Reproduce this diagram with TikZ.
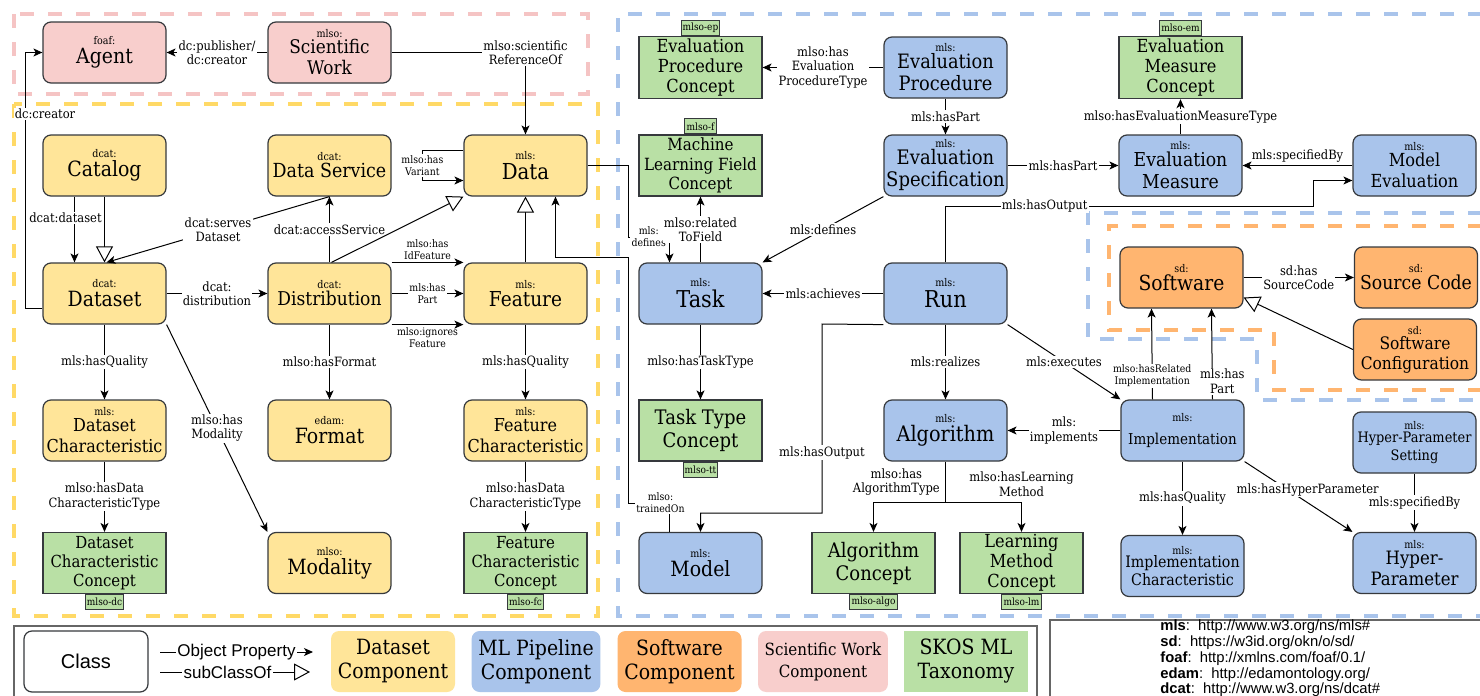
\documentclass[tikz,border=0pt]{standalone}
\usepackage{fontspec}
\setmainfont{DejaVu Serif}[FakeStretch=0.9]
\newfontfamily\legsans{Liberation Sans}
\usetikzlibrary{arrows.meta}
\definecolor{dsyellow}{HTML}{FFE599}
\definecolor{mlblue}{HTML}{A9C4EB}
\definecolor{sworange}{HTML}{FFB570}
\definecolor{scipink}{HTML}{F8CECC}
\definecolor{skosgreen}{HTML}{B9E0A5}
\definecolor{zoneyellow}{HTML}{FFD966}
\definecolor{zonepink}{HTML}{F5C4C4}
\definecolor{nodeborder}{HTML}{36393D}
\definecolor{framegray}{HTML}{666666}
\newcommand{\fsz}[2]{\fontsize{#1}{#2}\selectfont}
\newcommand{\nsp}[1]{{\fsz{5.3}{6}#1}\\[-2.5pt]}
\tikzset{
  classbox/.style={rectangle,rounded corners=4pt,draw=nodeborder,line width=0.6pt,minimum width=61.5pt,minimum height=30.5pt,inner sep=1pt,align=center,font=\fsz{10.5}{12}},
  dsclass/.style={classbox,fill=dsyellow},
  mlclass/.style={classbox,fill=mlblue},
  swclass/.style={classbox,fill=sworange},
  sciclass/.style={classbox,fill=scipink},
  skosconcept/.style={classbox,rounded corners=0pt,fill=skosgreen},
  skostag/.style={rectangle,draw=nodeborder,fill=skosgreen,line width=0.5pt,inner xsep=0.8pt,inner ysep=0pt,minimum height=7.5pt,font=\fsz{5}{6}},
  objprop/.style={draw=black,line width=0.5pt,-{Stealth[length=4.5pt,width=4pt,inset=1.2pt]}},
  subclass/.style={draw=black,line width=0.5pt,-{Triangle[open,length=8pt,width=8.5pt,fill=white]}},
  proplabel/.style={fill=white,inner sep=0.6pt,align=center,font=\fsz{6.4}{7.2}},
  smalllabel/.style={proplabel,font=\fsz{5.2}{6}},
  zone/.style={line width=2pt,dash pattern=on 7pt off 7pt},
  legendbox/.style={rectangle,rounded corners=4pt,minimum width=62pt,minimum height=30.5pt,align=center,font=\fsz{10.5}{12}},
  legendlabel/.style={fill=white,inner sep=0.6pt,font=\legsans\fsz{8.5}{9.5}},
  legendframe/.style={draw=framegray,line width=0.6pt}
}
\begin{document}
\begin{tikzpicture}[x=0.5pt,y=-0.5pt]
  \useasboundingbox[fill=white] (0,0) rectangle (1480,696);
  % component zones
  \draw[zone,zonepink] (14,14) rectangle (588,94);
  \draw[zone,zoneyellow] (14,104) rectangle (598,616);
  \draw[zone,mlblue] (1482,14) -- (618,14) -- (618,616) -- (1482,616);
  \draw[zone,mlblue] (1482,213) -- (1088,213) -- (1088,339) -- (1257,339) -- (1257,400) -- (1482,400);
  \draw[zone,sworange] (1482,226) -- (1109,226) -- (1109,330) -- (1274,330) -- (1274,390) -- (1482,390);

  % scientific work
  \node[sciclass] (agent) at (104.5,52.5) {\nsp{foaf:}Agent};
  \node[sciclass,font=\fsz{9.4}{10.5}] (scwork) at (329.5,52.5) {\nsp{mlso:}Scientific\\Work};

  % dataset
  \node[dsclass] (catalog) at (104.5,165.5) {\nsp{dcat:}Catalog};
  \node[dsclass,font=\fsz{9.7}{11}] (dataservice) at (329.5,165.5) {\nsp{dcat:}Data Service};
  \node[dsclass,font=\fsz{11}{12.5}] (data) at (525.5,165.5) {\nsp{mls:}Data};
  \node[dsclass] (dataset) at (104.5,293.5) {\nsp{dcat:}Dataset};
  \node[dsclass,font=\fsz{9.5}{11}] (distribution) at (329.5,293.5) {\nsp{dcat:}Distribution};
  \node[dsclass,font=\fsz{10.3}{11.5}] (feature) at (525.5,293.5) {\nsp{mls:}Feature};
  \node[dsclass,font=\fsz{8.9}{10.5}] (datasetchar) at (104.5,430.5) {\nsp{mls:}Dataset\\Characteristic};
  \node[dsclass] (format) at (329.5,430.5) {\nsp{edam:}Format};
  \node[dsclass,font=\fsz{8.9}{10.5}] (featurechar) at (525.5,430.5) {\nsp{mls:}Feature\\Characteristic};
  \node[skosconcept,font=\fsz{8.3}{9.6}] (dcc) at (104.5,563) {Dataset\\Characteristic\\Concept};
  \node[dsclass] (modality) at (329.5,563) {\nsp{mlso:}Modality};
  \node[skosconcept,font=\fsz{8.3}{9.6}] (fcc) at (525.5,563) {Feature\\Characteristic\\Concept};

  % ml pipeline
  \node[skosconcept,font=\fsz{9}{10.2}] (epc) at (700.5,67.5) {Evaluation\\Procedure\\Concept};
  \node[mlclass,font=\fsz{9.9}{11}] (evalproc) at (945.5,67.5) {\nsp{mls:}Evaluation\\Procedure};
  \node[skosconcept,font=\fsz{9}{10.2}] (emc) at (1180.5,67.5) {Evaluation\\Measure\\Concept};
  \node[skosconcept,font=\fsz{8.4}{9.8}] (mlfc) at (700.5,165.5) {Machine\\Learning Field\\Concept};
  \node[mlclass,font=\fsz{10}{11}] (evalspec) at (945.5,165.5) {\nsp{mls:}Evaluation\\Specification};
  \node[mlclass,font=\fsz{9.6}{11}] (evalmeasure) at (1180.5,165.5) {\nsp{mls:}Evaluation\\Measure};
  \node[mlclass,font=\fsz{9}{10.5}] (modeleval) at (1414.5,165.5) {\nsp{mls:}Model\\Evaluation};
  \node[mlclass,font=\fsz{11.6}{13}] (task) at (700.5,293.5) {\nsp{mls:}Task};
  \node[mlclass,font=\fsz{11.6}{13}] (run) at (945.5,293.5) {\nsp{mls:}Run};
  \node[skosconcept,font=\fsz{10}{11.5}] (ttc) at (700.5,430.5) {Task Type\\Concept};
  \node[mlclass,font=\fsz{10.7}{12}] (algorithm) at (945.5,430.5) {\nsp{mls:}Algorithm};
  \node[mlclass,font=\fsz{7.5}{14}] (impl) at (1182.5,430.5) {\nsp{mls:}Implementation};
  \node[mlclass,font=\fsz{7.2}{9}] (hps) at (1414.5,442.5) {\nsp{mls:}Hyper-Parameter\\Setting};
  \node[mlclass,font=\fsz{10.5}{12}] (model) at (700.5,563) {\nsp{mls:}Model};
  \node[skosconcept,font=\fsz{10}{11.5}] (ac) at (873.5,563) {Algorithm\\Concept};
  \node[skosconcept,font=\fsz{9}{10}] (lmc) at (1021.5,563) {Learning\\Method\\Concept};
  \node[mlclass,font=\fsz{7.9}{9}] (implchar) at (1182.5,566) {\nsp{mls:}Implementation\\Characteristic};
  \node[mlclass,font=\fsz{9.2}{10.5}] (hp) at (1414.5,563) {\nsp{mls:}Hyper-\\Parameter};

  % software
  \node[swclass,font=\fsz{10.4}{11.5}] (software) at (1181.5,277.5) {\nsp{sd:}Software};
  \node[swclass,font=\fsz{9.6}{11}] (sourcecode) at (1416,277.5) {\nsp{sd:}Source Code};
  \node[swclass,font=\fsz{8.6}{10}] (softconf) at (1415,349.5) {\nsp{sd:}Software\\Configuration};

  % skos tags
  \node[skostag,anchor=south] (tagep) at (epc.north) {mlso-ep};
  \node[skostag,anchor=south] (tagf) at (mlfc.north) {mlso-f};
  \node[skostag,anchor=south] (tagem) at (emc.north) {mlso-em};
  \node[skostag,anchor=north] (tagtt) at (ttc.south) {mlso-tt};
  \node[skostag,anchor=north] (tagdc) at (dcc.south) {mlso-dc};
  \node[skostag,anchor=north] (tagfc) at (fcc.south) {mlso-fc};
  \node[skostag,anchor=north] (tagalgo) at (ac.south) {mlso-algo};
  \node[skostag,anchor=north] (taglm) at (lmc.south) {mlso-lm};

  % properties
  \draw[objprop] (scwork) -- node[proplabel]{dc:publisher/\\dc:creator} (agent);
  \draw[objprop] (scwork.east) -| node[proplabel]{mlso:scientific\\ReferenceOf} (data.north);
  \draw[objprop] ([yshift=-7.5pt]dataset.west) -- (25,308.5) -- node[proplabel,pos=0.76,xshift=10pt]{dc:creator} (25,52.5) -- (agent.west);
  \draw[objprop] ([xshift=-15pt]catalog.south) -- node[proplabel,pos=0.32,xshift=-4.5pt]{dcat:dataset} ([xshift=-15pt]dataset.north);
  \draw[subclass] (catalog.south) -- (dataset.north);
  \draw[objprop] (dataservice.south) -- node[proplabel]{dcat:serves\\Dataset} ([xshift=1pt]dataset.north);
  \draw[objprop] (distribution.north) -- node[proplabel]{dcat:accessService} (dataservice.south);
  \draw[subclass] ([xshift=1pt]distribution.north) -- (data.south west);
  \draw[objprop] (dataset) -- node[proplabel]{dcat:\\distribution} (distribution);
  \draw[objprop] (distribution.north east) -- node[smalllabel,above=0.5pt,fill=none]{mlso:has\\IdFeature} (feature.north west);
  \draw[objprop] (distribution) -- node[smalllabel]{mls:has\\Part} (feature);
  \draw[objprop] (distribution.south east) -- node[smalllabel,below=0.5pt,fill=none]{mlso:ignores\\Feature} (feature.south west);
  \draw[objprop] ([yshift=7.5pt]data.west) -- ++(-20.5pt,0) -- node[smalllabel]{mlso:has\\Variant} ++(0,-15pt) -- ([yshift=-7.5pt]data.west);
  \draw[subclass] (feature) -- (data);
  \draw[objprop] ([xshift=-15.5pt]model.north) -- (669.5,503) node[smalllabel,xshift=-4.5pt]{mlso:\\trainedOn} -- (628,503) -- (628,257) -- (555.5,257) -- ([xshift=15pt]data.south);
  \draw[objprop] (data.east) -- (628,165.5) -- (628,237) -- node[smalllabel]{mls:\\defines} (669.5,237) -- ([xshift=-15.5pt]task.north);
  \draw[objprop] (dataset) -- node[proplabel]{mls:hasQuality} (datasetchar);
  \draw[objprop] (dataset.south east) -- node[proplabel]{mlso:has\\Modality} (modality.north west);
  \draw[objprop] (datasetchar) -- node[proplabel]{mlso:hasData\\CharacteristicType} (dcc);
  \draw[objprop] (distribution) -- node[proplabel]{mlso:hasFormat} (format);
  \draw[objprop] (feature) -- node[proplabel]{mls:hasQuality} (featurechar);
  \draw[objprop] (featurechar) -- node[proplabel]{mlso:hasData\\CharacteristicType} (fcc);

  \draw[objprop] (evalproc) -- node[proplabel]{mlso:has\\Evaluation\\ProcedureType} (epc);
  \draw[objprop] (evalproc) -- node[proplabel]{mls:hasPart} (evalspec);
  \draw[objprop] (evalspec) -- node[proplabel]{mls:hasPart} (evalmeasure);
  \draw[objprop] (evalmeasure) -- node[proplabel]{mlso:hasEvaluationMeasureType} (emc);
  \draw[objprop] (modeleval) -- node[proplabel,above=0.5pt,fill=none]{mls:specifiedBy} (evalmeasure);
  \draw[objprop] (evalspec.south west) -- node[proplabel]{mls:defines} (task.north east);
  \draw[objprop] (task) -- node[proplabel]{mlso:related\\ToField} (mlfc);
  \draw[objprop] (run.north) -- (945.5,206) -- node[proplabel,pos=0.27]{mls:hasOutput} (1313,206) -- (1313,180.5) -- ([yshift=-7.5pt]modeleval.west);
  \draw[objprop] (run) -- node[proplabel]{mls:achieves} (task);
  \draw[objprop] (task) -- node[proplabel]{mlso:hasTaskType} (ttc);
  \draw[objprop] (run.south west) -- (822,324) -- node[proplabel,pos=0.68]{mls:hasOutput} (822,513) -- (700.5,513) -- (model.north);
  \draw[objprop] (run) -- node[proplabel]{mls:realizes} (algorithm);
  \draw[objprop] (run.south east) -- node[proplabel]{mls:executes} (impl.north west);
  \draw[objprop] (impl) -- node[proplabel]{mls:\\implements} (algorithm);
  \coordinate (algsplit) at (945.5,502);
  \draw[objprop] (algorithm.south) -- node[proplabel,left=2pt,fill=none]{mlso:has\\AlgorithmType} (algsplit) -| (ac.north);
  \draw[objprop] (algsplit) -| node[proplabel,above=2pt,fill=none]{mlso:hasLearning\\Method} (lmc.north);
  \draw[objprop] ([xshift=-15pt]impl.north) -- node[smalllabel,pos=0.26]{mlso:hasRelated\\Implementation} ([xshift=-15pt]software.south);
  \draw[objprop] ([xshift=15pt]impl.north) -- node[proplabel,pos=0.2,xshift=5pt]{mls:has\\Part} ([xshift=15pt]software.south);
  \draw[objprop] (software) -- node[proplabel]{sd:has\\SourceCode} (sourcecode);
  \draw[subclass] (softconf.west) -- ([yshift=-10pt]software.east);
  \draw[objprop] (impl) -- node[proplabel]{mls:hasQuality} (implchar);
  \draw[objprop] (impl.south east) -- node[proplabel,pos=0.4,xshift=10pt]{mls:hasHyperParameter} (hp.north west);
  \draw[objprop] (hps) -- node[proplabel]{mls:specifiedBy} (hp);

  % legend
  \draw[legendframe] (14,626) rectangle (1037,720);
  \draw[legendframe] (1050,620) rectangle (1490,720);
  \node[legendbox,draw=nodeborder,line width=0.6pt,font=\legsans\fsz{10}{12}] (legclass) at (86,661.5) {Class};
  \coordinate (opstart) at (160,652);
  \coordinate (opend) at (313,652);
  \draw[objprop] (opstart) -- node[legendlabel]{Object Property} (opend);
  \coordinate (scstart) at (160,672);
  \coordinate (scend) at (310,672);
  \draw[subclass] (scstart) -- node[legendlabel,pos=0.45]{subClassOf} (scend);
  \node[legendbox,fill=dsyellow] (legds) at (393,661.5) {Dataset\\Component};
  \node[legendbox,fill=mlblue] (legml) at (536,661.5) {ML Pipeline\\Component};
  \node[legendbox,fill=sworange] (legsw) at (679.5,661.5) {Software\\Component};
  \node[legendbox,fill=scipink,font=\fsz{8.4}{11}] (legsci) at (823,661.5) {Scientific Work\\Component};
  \node[legendbox,rounded corners=0pt,fill=skosgreen] (legskos) at (966,661.5) {SKOS ML\\Taxonomy};
  \node[anchor=west,align=left,inner sep=0pt,font=\legsans\fsz{7.4}{6.7}] (nslist) at (1160,658.5)
    {\textbf{mls}:\ \ http://www.w3.org/ns/mls\#\\
     \textbf{sd}:\ \ https://w3id.org/okn/o/sd/\\
     \textbf{foaf}:\ \ http://xmlns.com/foaf/0.1/\\
     \textbf{edam}:\ \ http://edamontology.org/\\
     \textbf{dcat}:\ \ http://www.w3.org/ns/dcat\#};
\end{tikzpicture}
\end{document}
